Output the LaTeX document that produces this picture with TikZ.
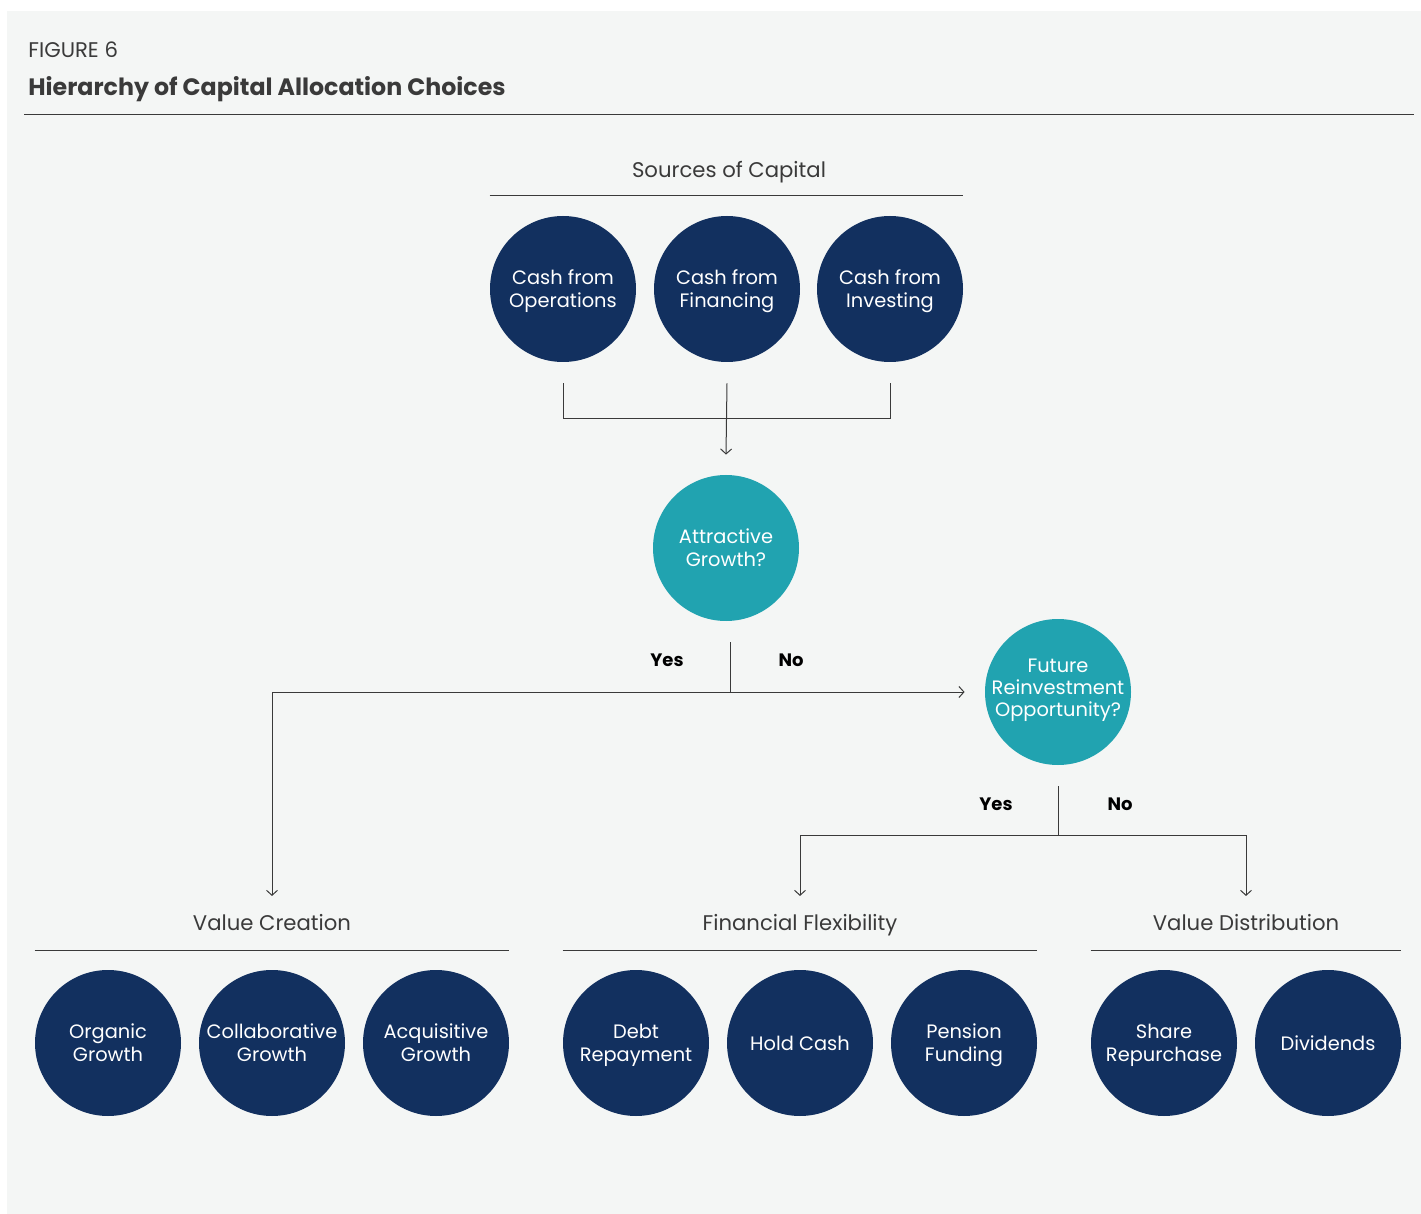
\documentclass[tikz,border=0pt]{standalone}
\usepackage{fontspec}
\setmainfont{Poppins}
\usetikzlibrary{arrows.meta}

\definecolor{marine}{HTML}{12305F}
\definecolor{canard}{HTML}{21A3B0}
\definecolor{fond}{HTML}{F4F6F5}
\definecolor{trait}{HTML}{3A3A3A}

% cales verticales pour centrer les lignes
\newcommand{\calehaut}{\rule{0pt}{11pt}}
\newcommand{\calebas}[1][4pt]{\rule[-#1]{0pt}{0pt}}

\tikzset{
  rond/.style={circle,fill=marine,text=white,minimum size=73pt,inner sep=-6pt,
    align=center,font=\fontsize{9.7}{11.2}\selectfont,
    execute at begin node=\calehaut,execute at end node=\calebas},
  rondq/.style={rond,fill=canard},
  groupe/.style={font=\fontsize{10.6}{12}\selectfont,text=trait,inner sep=0pt,anchor=base},
  oui/.style={font=\bfseries\fontsize{9}{11}\selectfont,text=black},
  fil/.style={draw=trait,line width=0.5pt},
  fleche/.style={fil,-{Straight Barb[length=2.5pt,width=5.5pt]}},
  regle/.style={draw=trait,line width=0.5pt},
}

\begin{document}
\begin{tikzpicture}[x=0.5pt,y=-0.5pt]

\useasboundingbox (0,0) rectangle (1421,1214);
\fill[fond] (7,11) rectangle (1421,1214);

% titre

\node[anchor=base west,inner sep=0pt,font=\fontsize{10.6}{12}\selectfont,text=trait] (fig) at (28,57.5) {FIGURE 6};
\node[anchor=base west,inner sep=0pt,font=\bfseries\fontsize{11.85}{14}\selectfont,text=trait] (titre) at (28,95.5) {Hierarchy of Capital Allocation Choices};
\draw[regle] (24,115) -- (1414,115);

% sources

\node[groupe] (sources) at (729,177.5) {Sources of Capital};
\node[rond] (ops) at (563,289) {\calehaut Cash from\\Operations};
\node[rond] (fin) at (727,289) {\calehaut Cash from\\Financing};
\node[rond] (inv) at (890,289) {\calehaut Cash from\\Investing};
\draw[regle] (ops.west |- 0,196) -- (inv.east |- 0,196);

\draw[fil] ([yshift=-10.5pt]ops.south) |- ([yshift=-28pt]fin.south) -| ([yshift=-10.5pt]inv.south);

% premier choix

\node[rondq] (attr) at (726,548) {\calehaut Attractive\\Growth?};
\draw[fleche] ([yshift=-10.5pt]fin.south) -- ([yshift=10pt]attr.north);

\coordinate (branche1) at (730,692);
\node[oui] (oui1) at (667,660) {Yes};
\node[oui] (non1) at (791,660) {No};

% second choix

\node[rondq,execute at end node={\calebas[8.5pt]}] (fut) at (1058,692) {\calehaut Future\\Reinvestment\\Opportunity?};

\coordinate (branche2) at (1058,835);
\node[oui] (oui2) at (996,804) {Yes};
\node[oui] (non2) at (1120,804) {No};

% groupes du bas

\node[groupe] (creation) at (272,930.5) {Value Creation};
\node[groupe] (flex) at (800,930.5) {Financial Flexibility};
\node[groupe] (distrib) at (1246,930.5) {Value Distribution};

\node[rond] (org) at (108,1043) {\calehaut Organic\\Growth};
\node[rond] (colla) at (272,1043) {\calehaut Collaborative\\Growth};
\node[rond] (acq) at (436,1043) {\calehaut Acquisitive\\Growth};

\node[rond] (dette) at (636,1043) {\calehaut Debt\\Repayment};
\node[rond] (cash) at (800,1043) {Hold Cash};
\node[rond] (pension) at (964,1043) {\calehaut Pension\\Funding};

\node[rond] (rachat) at (1164,1043) {\calehaut Share\\Repurchase};
\node[rond] (div) at (1328,1043) {Dividends};

\draw[regle] (org.west |- 0,950) -- (acq.east |- 0,950);
\draw[regle] (dette.west |- 0,950) -- (pension.east |- 0,950);
\draw[regle] (rachat.west |- 0,950) -- (div.east |- 0,950);

% branches

\draw[fil] ([xshift=2pt,yshift=-10.5pt]attr.south) -- (branche1);
\draw[fleche] (branche1) -- ([xshift=-10pt]fut.west);
\draw[fleche] (branche1) -| ([yshift=9pt]creation.north);

\draw[fil] ([yshift=-10.5pt]fut.south) -- (branche2);
\draw[fleche] (branche2) -| ([yshift=9pt]flex.north);
\draw[fleche] (branche2) -| ([yshift=9pt]distrib.north);

\end{tikzpicture}
\end{document}
